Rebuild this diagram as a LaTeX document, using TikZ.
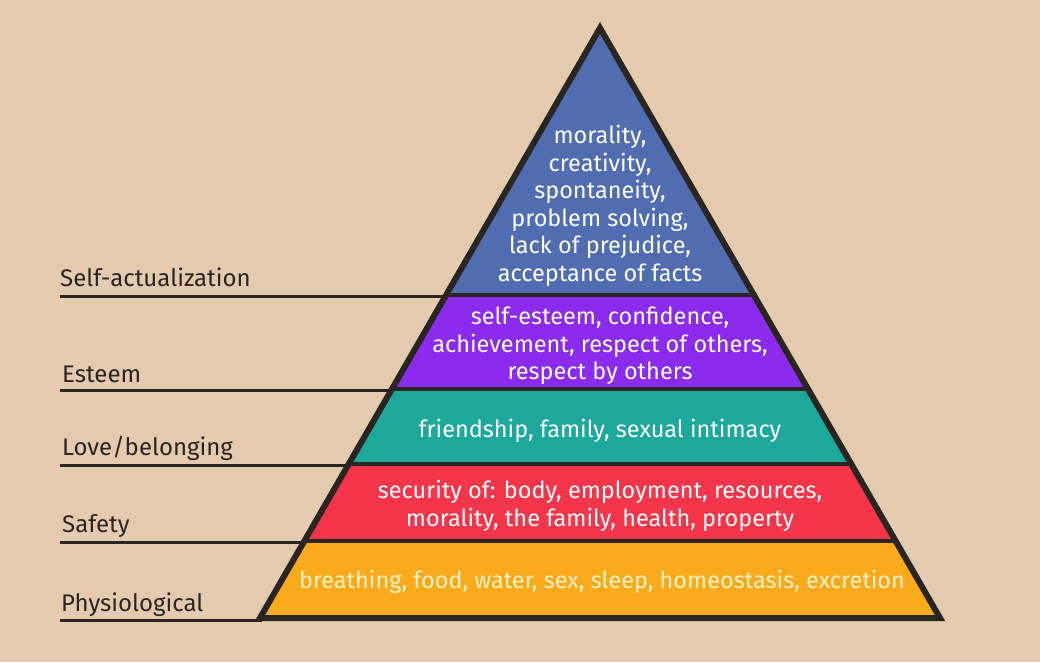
\documentclass[tikz,border=0pt]{standalone}
\usepackage{fontspec}
\setmainfont{Fira Sans}
\definecolor{bg}{HTML}{E4CBB0}
\definecolor{ink}{HTML}{2B2522}
\definecolor{cblue}{HTML}{4F6DB0}
\definecolor{cpurple}{HTML}{8A2BEE}
\definecolor{cteal}{HTML}{1CA89B}
\definecolor{cred}{HTML}{F5364A}
\definecolor{corange}{HTML}{FBAA1C}
\definecolor{paleyellow}{HTML}{FFF3C4}
\begin{document}
\begin{tikzpicture}[x=1pt,y=-1pt,
  lvl/.style={anchor=base west, inner sep=0pt, text=ink, font=\fontsize{24}{27}\selectfont},
  inside/.style={align=center, inner sep=0pt, text=white, font=\fontsize{23.5}{27.5}\selectfont},
  sep/.style={draw=ink, line width=4.5pt},
  guide/.style={draw=ink, line width=3pt}]
\useasboundingbox (0,0) rectangle (1040,662);
\fill[bg] (0,0) rectangle (1040,662);
% pyramid geometry: apex (600,28), base (260,618)-(940,618)
\coordinate (A) at (600,28);
\coordinate (L1) at (446,295); \coordinate (R1) at (754,295);
\coordinate (L2) at (392,389); \coordinate (R2) at (808,389);
\coordinate (L3) at (349,464); \coordinate (R3) at (851,464);
\coordinate (L4) at (304,541); \coordinate (R4) at (896,541);
\coordinate (L5) at (260,618); \coordinate (R5) at (940,618);
\fill[cblue] (A) -- (R1) -- (L1) -- cycle;
\fill[cpurple] (L1) -- (R1) -- (R2) -- (L2) -- cycle;
\fill[cteal] (L2) -- (R2) -- (R3) -- (L3) -- cycle;
\fill[cred] (L3) -- (R3) -- (R4) -- (L4) -- cycle;
\fill[corange] (L4) -- (R4) -- (R5) -- (L5) -- cycle;
\draw[sep] (L1) -- (R1) (L2) -- (R2) (L3) -- (R3) (L4) -- (R4);
\draw[draw=ink, line width=6pt, line join=miter, miter limit=20] (A) -- (R5) -- (L5) -- cycle;
% guide lines
\coordinate (G1) at (60,296); \coordinate (G2) at (60,390);
\coordinate (G3) at (60,465); \coordinate (G4) at (60,542);
\coordinate (G5) at (60,620);
\coordinate (E1) at (447,296); \coordinate (E2) at (392,390);
\coordinate (E3) at (348,465); \coordinate (E4) at (304,542);
\coordinate (E5) at (262,620);
\draw[guide] (G1) -- (E1) (G2) -- (E2) (G3) -- (E3) (G4) -- (E4) (G5) -- (E5);
% labels
\node[lvl] (selfact) at (60,286) {Self-actualization};
\node[lvl] (esteem) at (62,382) {Esteem};
\node[lvl] (love) at (62,455) {Love/belonging};
\node[lvl] (safety) at (62,532) {Safety};
\node[lvl] (physio) at (61,611) {Physiological};
% band texts
\node[inside] (tblue) at (600,206) {morality,\\creativity,\\spontaneity,\\problem solving,\\lack of prejudice,\\acceptance of facts};
\node[inside] (tpurple) at (600,346) {self-esteem, confidence,\\achievement, respect of others,\\respect by others};
\node[inside] (tteal) at (600,431) {friendship, family, sexual intimacy};
\node[inside] (tred) at (600,506) {security of: body, employment, resources,\\morality, the family, health, property};
\node[inside, text=paleyellow] (torange) at (602,582) {breathing, food, water, sex, sleep, homeostasis, excretion};
\end{tikzpicture}
\end{document}
